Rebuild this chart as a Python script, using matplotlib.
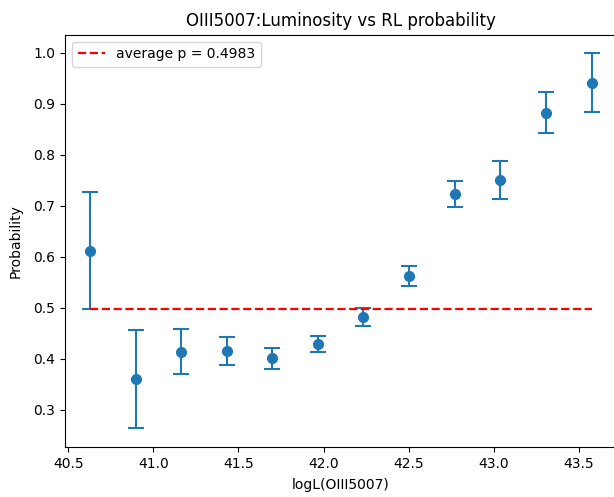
import matplotlib.pyplot as plt
import numpy as np

# binned luminosity and RL probability
logL = [40.628, 40.896, 41.165, 41.431, 41.698, 41.966,
        42.234, 42.502, 42.771, 43.039, 43.306, 43.575]
prob = [0.612, 0.360, 0.414, 0.416, 0.401, 0.429,
        0.482, 0.563, 0.723, 0.751, 0.883, 0.942]
err = [0.115, 0.096, 0.044, 0.027, 0.020, 0.016,
       0.017, 0.020, 0.025, 0.038, 0.041, 0.057]
avg_p = 0.4983

fig = plt.figure(figsize=(6.14, 4.97), dpi=100)
ax = fig.add_axes([0.1059, 0.1006, 0.8985, 0.8296])

ax.errorbar(logL, prob, yerr=err, fmt='o', capsize=5.5, markersize=7,
            elinewidth=1.5, capthick=1.5)
ax.hlines(avg_p, min(logL), max(logL), colors='r', linestyles='--',
          linewidth=1.6, label='average p = %.4f' % avg_p)

ax.set_title('OIII5007:Luminosity vs RL probability')
ax.set_xlabel('logL(OIII5007)', labelpad=5)
ax.set_ylabel('Probability', labelpad=8)
ax.legend(loc='upper left')

fig.savefig('out.png')
